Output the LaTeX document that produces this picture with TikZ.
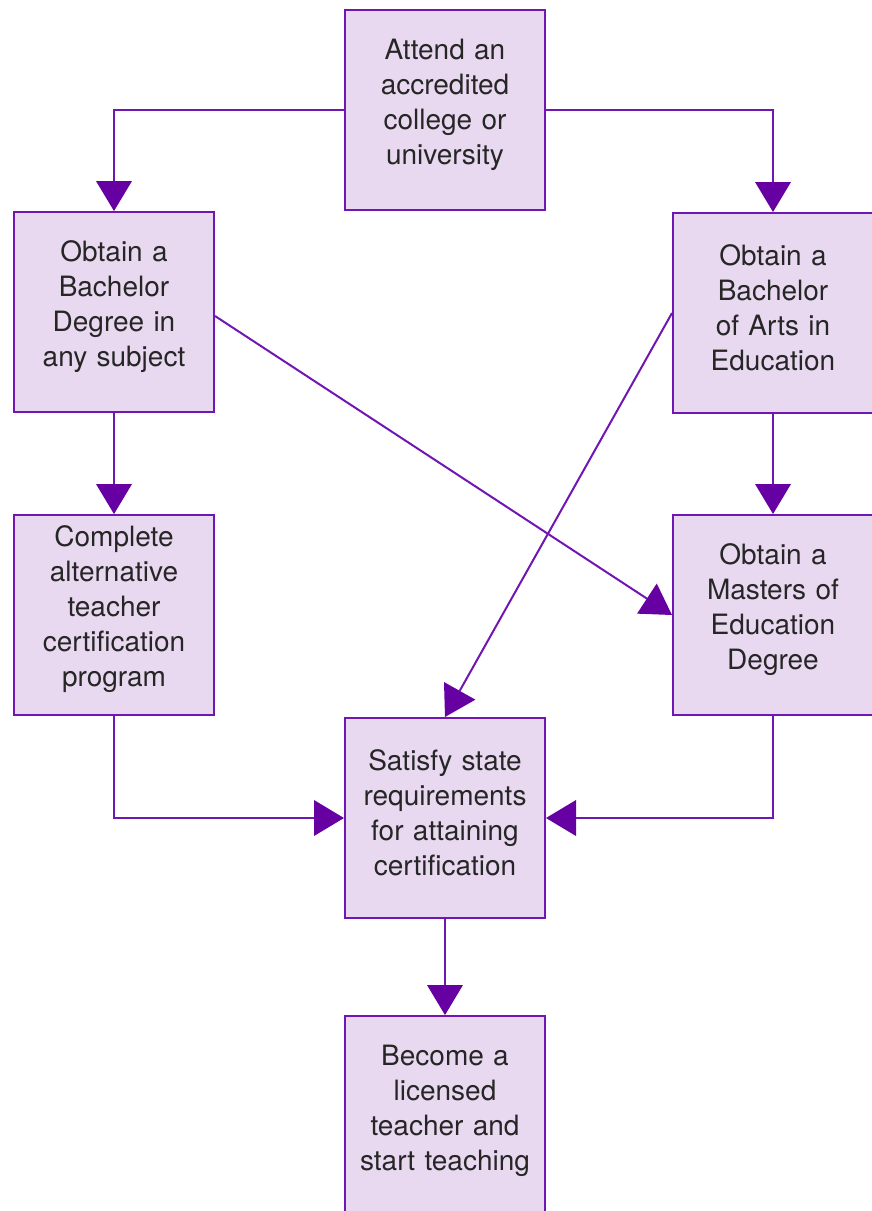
\documentclass[tikz,border=0pt]{standalone}
\usepackage{fontspec}
\setmainfont{TeX Gyre Heros}
\usepackage{xcolor}
\usepackage{tikz}
\usetikzlibrary{arrows.meta}
\definecolor{boxfill}{RGB}{232,217,240}
\definecolor{boxline}{RGB}{112,22,178}
\definecolor{tipfill}{RGB}{102,0,162}
\tikzset{
  stepbox/.style={draw=boxline, fill=boxfill, line width=2pt, minimum width=200pt,
    minimum height=200pt, inner sep=0pt, text width=190pt, align=center,
    font=\fontsize{28}{35}\selectfont, text=black!85,
    execute at end node={\par\vspace*{11pt}}},
  link/.style={draw=boxline, line width=2pt,
    -{Triangle[width=36pt,length=30pt,fill=tipfill,line width=0pt]}}
}
\begin{document}
\begin{tikzpicture}[x=1pt, y=-1pt]
                      \useasboundingbox (0,0) rectangle (872,1211);
                      \node[stepbox] (attend) at (445,110)
                      {Attend an\\accredited\\college or\\university};
                      \node[stepbox] (bachany) at (114,312)
                      {Obtain a\\Bachelor\\Degree in\\any subject};
                      \node[stepbox] (bachedu) at (773,313)
                      {Obtain a\\Bachelor\\of Arts in\\Education};
                      \node[stepbox] (altcert) at (114,615)
                      {Complete\\alternative\\teacher\\certification\\program};
                      \node[stepbox] (masters) at (773,615)
                      {Obtain a\\Masters of\\Education\\Degree};
                      \node[stepbox] (state) at (445,818)
                      {Satisfy state\\requirements\\for attaining\\certification};
                      \node[stepbox] (licensed) at (445,1116)
                      {Become a\\licensed\\teacher and\\start teaching};
                      \draw[link] (attend.west) -| (bachany.north);
                      \draw[link] (attend.east) -| (bachedu.north);
                      \draw[link] (bachany.south) -- (altcert.north);
                      \draw[link] (bachedu.south) -- (masters.north);
                      \draw[link] ([yshift=-4pt]bachany.east) -- (masters.west);
                      \draw[link] (bachedu.west) -- (state.north);
                      \draw[link] (altcert.south) |- (state.west);
                      \draw[link] (masters.south) |- (state.east);
                      \draw[link] (state.south) -- (licensed.north);
                  \end{tikzpicture}
\end{document}
